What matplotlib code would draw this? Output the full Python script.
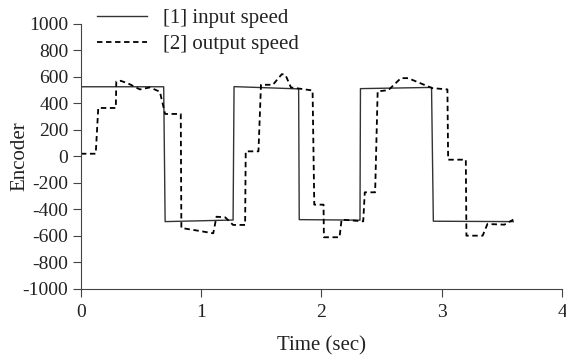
import matplotlib
matplotlib.use("Agg")
import matplotlib.pyplot as plt

plt.rcParams["font.family"] = ["Liberation Serif", "DejaVu Serif"]
plt.rcParams["axes.unicode_minus"] = False

# [1] input speed (solid)
t_in = [0.0, 0.688, 0.70, 1.265, 1.273, 1.81, 1.815, 2.32, 2.324, 2.915, 2.93, 3.595]
v_in = [525, 525, -492, -480, 526, 509, -477, -481, 511, 520, -489, -492]

# [2] output speed (dashed)
t_out = [0.0, 0.123, 0.144, 0.29, 0.294, 0.33, 0.393, 0.49, 0.573, 0.656, 0.70,
         0.83, 0.835, 0.97, 1.1, 1.127, 1.2, 1.265, 1.365, 1.37, 1.476, 1.497,
         1.596, 1.67, 1.70, 1.746, 1.926, 1.94, 2.017, 2.02, 2.15, 2.167, 2.347,
         2.36, 2.446, 2.467, 2.557, 2.66, 2.72, 2.92, 3.047, 3.053, 3.2, 3.205,
         3.34, 3.38, 3.52, 3.595]
v_out = [20, 20, 365, 365, 565, 570, 550, 505, 520, 488, 320,
         320, -540, -560, -580, -455, -460, -517, -517, 38, 38, 540,
         540, 620, 615, 520, 497, -364, -364, -610, -610, -477, -490,
         -271, -271, 490, 500, 590, 590, 515, 505, -25, -25, -598,
         -598, -510, -515, -477]

fig = plt.figure(figsize=(5.66, 3.55), dpi=100)
ax = fig.add_axes([0.143, 0.186, 0.850, 0.747])

ax.plot(t_in, v_in, color="#333333", lw=1.0, label="[1] input speed")
ax.plot(t_out, v_out, color="black", lw=1.3, linestyle=(0, (3, 2)),
        label="[2] output speed")

ax.set_xlim(0, 4)
ax.set_ylim(-1000, 1000)
ax.set_xticks([0, 1, 2, 3, 4])
ax.set_yticks(range(-1000, 1001, 200))
ax.spines["top"].set_visible(False)
ax.spines["right"].set_visible(False)
for s in ("left", "bottom"):
    ax.spines[s].set_color("#444444")
ax.tick_params(direction="out", length=6, color="#444444", labelsize=14,
               labelcolor="#222222", pad=3)
ax.tick_params(axis="x", pad=5)
ax.set_xlabel("Time (sec)", fontsize=15, labelpad=11, color="#222222")
ax.set_ylabel("Encoder", fontsize=15, color="#222222")
ax.yaxis.set_label_coords(-0.108, 0.5)

fig.legend(loc="upper left", bbox_to_anchor=(0.138, 1.028), frameon=False,
           fontsize=15, handlelength=2.4, handletextpad=0.77,
           labelspacing=0.3, labelcolor="#222222")

fig.savefig("out.png", dpi=100)
